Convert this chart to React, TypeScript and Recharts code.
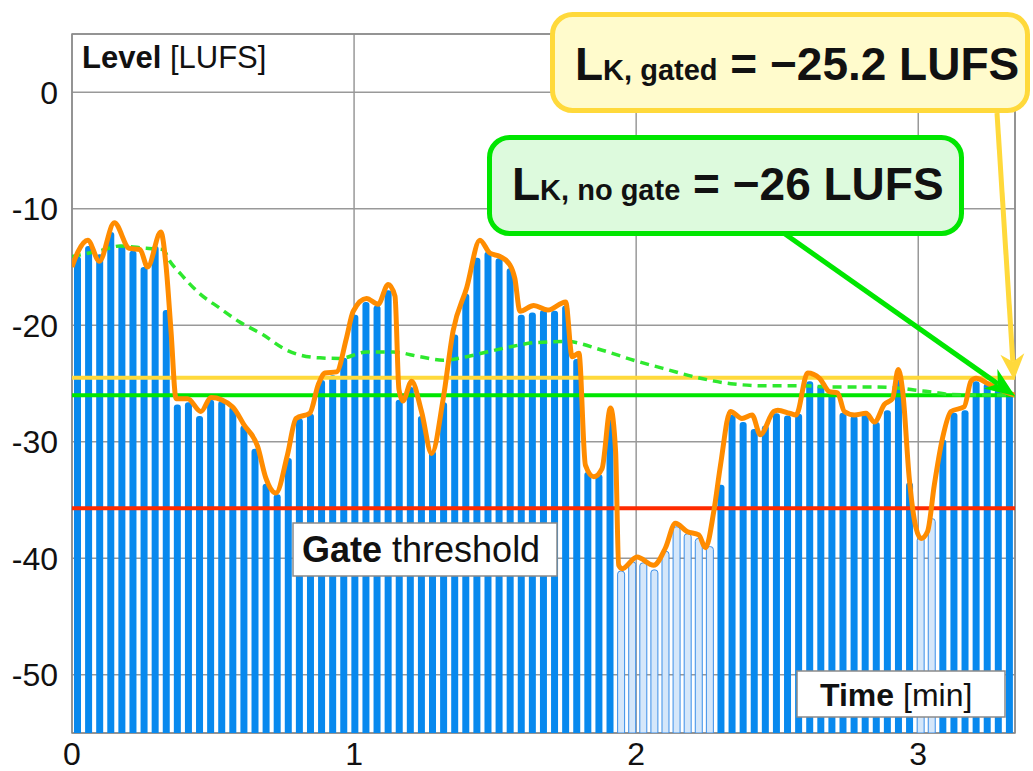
import React from 'react'
import { ComposedChart, Bar, Line, Cell, XAxis, YAxis, CartesianGrid, ReferenceLine, ReferenceArea } from 'recharts'

const FONT = "'Liberation Sans', Arial, sans-serif"

// loudness per block [LUFS], left to right
const BLOCK_LEVELS = [
    -14.1, -13.2, -13.9, -12.0, -13.1, -13.6, -15.0, -13.2, -18.7, -26.8,
    -26.6, -27.8, -26.4, -26.5, -27.0, -28.6, -30.6, -33.6, -34.5, -31.4,
    -28.0, -27.6, -24.7, -24.3, -22.8, -19.1, -18.0, -18.3, -17.0, -26.4,
    -25.3, -27.8, -30.8, -26.6, -20.8, -17.3, -14.2, -13.7, -14.25, -15.1,
    -19.1, -18.9, -18.7, -18.75, -18.3, -22.9, -32.6, -32.8, -28.1, -41.1,
    -40.3, -40.4, -41.0, -39.4, -37.3, -37.9, -38.3, -39.0, -33.7, -27.7,
    -28.3, -28.9, -28.6, -27.55, -27.75, -27.6, -24.8, -25.1, -25.7, -27.5,
    -27.8, -27.6, -28.3, -27.3, -24.7, -33.5, -38.2, -36.6, -29.8, -27.5,
    -27.3, -24.8, -25.0, -25.5, -25.8,
]

const DURATION = 3.343 // minutes covered by the time axis
const X_TICKS = [0, 1, 2, 3]
const Y_TICKS = [-50, -40, -30, -20, -10, 0]
const Y_MIN = -55
const Y_MAX = 5

const GATE_THRESHOLD = -35.7
const LK_NO_GATE = -26
const LK_GATED_LINE = -24.5

// momentary loudness curve: [minute, LUFS]
const CURVE: [number, number][] = [
    [0, -15.0], [0.021, -13.7], [0.056, -12.7], [0.097, -14.5], [0.15, -11.2],
    [0.203, -13.4], [0.241, -13.5], [0.268, -15.0], [0.315, -12.0], [0.333, -14.8],
    [0.351, -20.5], [0.369, -26.3], [0.41, -26.3], [0.457, -27.4], [0.493, -26.2],
    [0.569, -27.0], [0.611, -28.6], [0.658, -30.4], [0.687, -33.1], [0.723, -34.4],
    [0.764, -31.1], [0.794, -28.0], [0.843, -27.55], [0.873, -25.1], [0.897, -24.1],
    [0.938, -24.0], [0.973, -21.1], [0.997, -18.8], [1.044, -17.7], [1.085, -18.2],
    [1.121, -16.5], [1.145, -17.5], [1.159, -25.5], [1.173, -26.5], [1.204, -24.8],
    [1.239, -27.4], [1.275, -31.0], [1.316, -26.3], [1.351, -20.5], [1.399, -16.8],
    [1.446, -12.7], [1.481, -13.8], [1.517, -14.1], [1.552, -14.8], [1.57, -16.0],
    [1.588, -18.8], [1.637, -18.3], [1.687, -18.7], [1.75, -18.0], [1.773, -22.7],
    [1.797, -22.4], [1.82, -32.0], [1.85, -33.0], [1.879, -32.3], [1.909, -27.1],
    [1.927, -30.8], [1.938, -40.6], [1.95, -40.9], [2.003, -39.9], [2.062, -40.6],
    [2.104, -39.1], [2.139, -37.0], [2.18, -37.7], [2.222, -38.0], [2.246, -39.1],
    [2.275, -36.0], [2.299, -32.0], [2.334, -27.4], [2.375, -28.0], [2.411, -27.7],
    [2.44, -29.4], [2.488, -27.4], [2.502, -27.3], [2.543, -27.55], [2.567, -27.7],
    [2.608, -24.1], [2.65, -24.55], [2.685, -25.7], [2.714, -25.8], [2.738, -27.4],
    [2.774, -27.7], [2.815, -27.55], [2.845, -28.3], [2.88, -26.8], [2.909, -26.3],
    [2.929, -23.8], [2.945, -25.7], [2.968, -33.1], [2.992, -37.4], [3.01, -38.3],
    [3.033, -37.7], [3.057, -33.7], [3.086, -29.7], [3.116, -27.4], [3.163, -27.0],
    [3.187, -24.8], [3.205, -24.55], [3.246, -25.0], [3.293, -25.55], [3.341, -26.0],
]

// running integrated loudness without gate: [minute, LUFS]
const RUNNING: [number, number][] = [
    [0, -14.1], [0.099, -13.6], [0.17, -13.2], [0.264, -13.4], [0.322, -13.5],
    [0.347, -14.5], [0.389, -15.7], [0.451, -17.25], [0.522, -18.5], [0.593, -19.7],
    [0.676, -20.8], [0.758, -22.1], [0.808, -22.55], [0.879, -22.8], [0.95, -22.85],
    [1.044, -22.3], [1.139, -22.3], [1.233, -22.7], [1.316, -23.0], [1.399, -22.7],
    [1.47, -22.3], [1.564, -21.8], [1.637, -21.5], [1.755, -21.4], [1.874, -22.1],
    [1.991, -23.0], [2.11, -23.8], [2.228, -24.55], [2.346, -25.05], [2.466, -25.2],
    [2.585, -25.2], [2.703, -25.3], [2.821, -25.3], [2.939, -25.4], [2.998, -25.6],
    [3.057, -25.75], [3.116, -25.95], [3.343, -26.0],
]

const blockData = BLOCK_LEVELS.map((level, i) => ({
    block: i,
    range: [Y_MIN, level],
    level,
}))
const curveData = CURVE.map(([t, v]) => ({ t, v }))
const runningData = RUNNING.map(([t, v]) => ({ t, v }))

const GRID = '#999999'
const BLUE = '#0889ee'
const ORANGE = '#ff8c00'
const GREEN = '#00e600'
const YELLOW = '#ffd93b'
const RED = '#ff2a00'

// filled, notched arrow head pointing from (x1,y1) to (x2,y2)
function arrow(x1: number, y1: number, x2: number, y2: number, len: number, half: number) {
    const d = Math.hypot(x2 - x1, y2 - y1)
    const ux = (x2 - x1) / d
    const uy = (y2 - y1) / d
    const bx = x2 - ux * len
    const by = y2 - uy * len
    const nx = x2 - ux * len * 0.7
    const ny = y2 - uy * len * 0.7
    return {
        head: `${x2},${y2} ${bx - uy * half},${by + ux * half} ${nx},${ny} ${bx + uy * half},${by - ux * half}`,
        nx,
        ny,
    }
}

const greenArrow = arrow(785, 234, 1015, 396, 30, 12)
const yellowArrow = arrow(997, 113, 1014, 380, 26, 12)

const tickStyle = { fontSize: 32, fill: '#111', fontFamily: FONT }

export default function App() {
    return (
        <div style={{ position: 'relative', width: 1033, height: 771, background: '#fff', fontFamily: FONT }}>
            <style>{'body{margin:0}'}</style>
            <ComposedChart
                width={1033}
                height={771}
                data={blockData}
                margin={{ top: 34, right: 18, bottom: 0, left: 0 }}
                barCategoryGap={0}
                style={{ fontFamily: FONT }}
            >
                <CartesianGrid xAxisId="time" stroke={GRID} strokeWidth={1.5} />
                <ReferenceArea
                    xAxisId="time"
                    x1={0}
                    x2={DURATION}
                    y1={Y_MIN}
                    y2={Y_MAX}
                    fill="none"
                    stroke="#8a8a8a"
                    strokeWidth={1.5}
                />
                <XAxis
                    xAxisId="time"
                    dataKey="t"
                    type="number"
                    domain={[0, DURATION]}
                    ticks={X_TICKS}
                    allowDataOverflow
                    height={38}
                    axisLine={false}
                    tickLine={false}
                    tickSize={0}
                    tickMargin={9}
                    tick={tickStyle}
                />
                <XAxis xAxisId="blocks" dataKey="block" type="category" height={0} hide />
                <YAxis
                    type="number"
                    domain={[Y_MIN, Y_MAX]}
                    ticks={Y_TICKS}
                    allowDataOverflow
                    width={72}
                    axisLine={false}
                    tickLine={false}
                    tickSize={0}
                    tickMargin={14}
                    tick={tickStyle}
                    tickFormatter={(v: number) => (v < 0 ? `-${-v}` : `${v}`)}
                />
                <Bar xAxisId="blocks" dataKey="range" barSize={7} radius={[3, 3, 0, 0]} isAnimationActive={false}>
                    {blockData.map((d, i) =>
                        d.level < GATE_THRESHOLD ? (
                            <Cell key={i} fill="#d5e7fa" stroke="#3a8ee8" strokeWidth={1} />
                        ) : (
                            <Cell key={i} fill={BLUE} />
                        ),
                    )}
                </Bar>
                <ReferenceLine xAxisId="time" y={GATE_THRESHOLD} stroke={RED} strokeWidth={4} />
                <ReferenceLine xAxisId="time" y={LK_GATED_LINE} stroke={YELLOW} strokeWidth={4} />
                <ReferenceLine xAxisId="time" y={LK_NO_GATE} stroke={GREEN} strokeWidth={4} />
                <Line
                    xAxisId="time"
                    data={runningData}
                    dataKey="v"
                    type="monotone"
                    stroke="#2ee82e"
                    strokeWidth={3.5}
                    strokeDasharray="9 6"
                    dot={false}
                    activeDot={false}
                    isAnimationActive={false}
                />
                <Line
                    xAxisId="time"
                    data={curveData}
                    dataKey="v"
                    type="monotone"
                    stroke={ORANGE}
                    strokeWidth={5}
                    strokeLinejoin="round"
                    dot={false}
                    activeDot={false}
                    isAnimationActive={false}
                />
            </ComposedChart>

            <svg
                width={1033}
                height={771}
                style={{ position: 'absolute', left: 0, top: 0, pointerEvents: 'none', fontFamily: FONT }}
            >
                <text x={82} y={68} fontSize={31} fill="#111">
                    <tspan fontWeight="bold">Level</tspan> [LUFS]
                </text>

                <rect x={293} y={523} width={264} height={53} fill="#fff" stroke="#8a8a8a" strokeWidth={1.5} />
                <text x={302} y={562} fontSize={36} fill="#111">
                    <tspan fontWeight="bold">Gate</tspan> threshold
                </text>

                <rect x={797} y={671} width={208} height={46} fill="#fff" stroke="#8a8a8a" strokeWidth={1.5} />
                <text x={820} y={706} fontSize={32} fill="#111">
                    <tspan fontWeight="bold">Time</tspan> [min]
                </text>

                <line x1={785} y1={234} x2={greenArrow.nx} y2={greenArrow.ny} stroke={GREEN} strokeWidth={5} />
                <polygon points={greenArrow.head} fill={GREEN} />
                <line x1={997} y1={113} x2={yellowArrow.nx} y2={yellowArrow.ny} stroke={YELLOW} strokeWidth={5} />
                <polygon points={yellowArrow.head} fill={YELLOW} />

                <rect x={552.5} y={14.5} width={475} height={96} rx={20} fill="#fffbcc" stroke={YELLOW} strokeWidth={5} />
                <text x={575} y={80} fontSize={46} fontWeight="bold" fill="#111">
                    L<tspan fontSize={29}>K, gated</tspan> = −25.2 LUFS
                </text>

                <rect x={489.5} y={137.5} width={472} height={96} rx={20} fill="#ddfadd" stroke={GREEN} strokeWidth={5} />
                <text x={512} y={200} fontSize={46} fontWeight="bold" fill="#111">
                    L<tspan fontSize={29}>K, no gate</tspan> = −26 LUFS
                </text>
            </svg>
        </div>
    )
}
